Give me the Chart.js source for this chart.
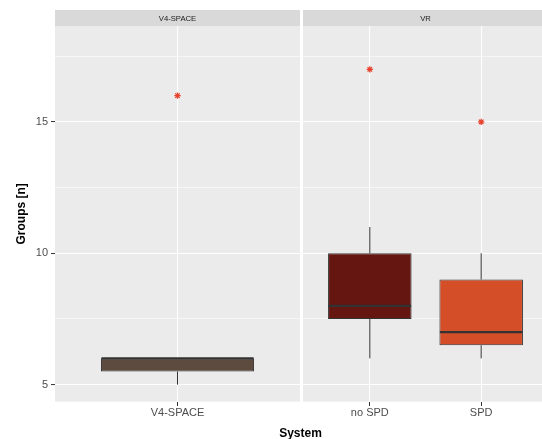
<!DOCTYPE html>
<html>
<head>
<meta charset="utf-8">
<script src="https://cdn.jsdelivr.net/npm/chart.js@4/dist/chart.umd.min.js"></script>
<style>
  html, body { margin: 0; padding: 0; background: #fff; }
  body { width: 542px; height: 439px; overflow: hidden; position: relative; font-family: "Liberation Sans", Arial, sans-serif; }
  canvas { position: absolute; top: 0; }
  #xTitle { position: absolute; left: 250px; width: 101px; top: 426px; text-align: center; font-weight: bold; font-size: 12px; line-height: 14px; color: #000; }
</style>
</head>
<body>
<canvas id="panelA" width="300" height="439" style="left:0px"></canvas>
<canvas id="panelB" width="248" height="439" style="left:300px"></canvas>
<div id="xTitle">System</div>
<script>
var facets = ['V4-SPACE', 'VR'];
var groups = ['V4-SPACE', 'no SPD', 'SPD'];
var groupFacet = ['V4-SPACE', 'VR', 'VR'];
var whiskerLow = [5, 6, 6];
var q1 = [5.5, 7.5, 6.5];
var median = [6, 8, 7];
var q3 = [6, 10, 9];
var whiskerHigh = [6, 11, 10];
var outliers = [[16], [17], [15]];
var yTicks = [5, 10, 15];

var boxColors = ['#5e4b3f', '#661610', '#d44e28'];
var lineColor = '#333333';
var yMin = 4.35, yMax = 18.65;   // ggplot expanded range
var boxWidth = 0.75;

// minor gridlines halfway between the labelled ones (ggplot style)
var step = yTicks[1] - yTicks[0];
var gridVals = [];
yTicks.forEach(function (v) { gridVals.push(v); gridVals.push(v + step / 2); });

var panelBg = {
    id: 'panelBg',
    beforeDraw: function (chart) {
        var a = chart.chartArea, ctx = chart.ctx;
        ctx.save();
        ctx.fillStyle = '#ebebeb';
        ctx.fillRect(a.left, a.top, a.right - a.left, a.bottom - a.top);
        ctx.fillStyle = '#d9d9d9';
        ctx.fillRect(a.left, 10, a.right - a.left, a.top - 10);
        ctx.fillStyle = '#1a1a1a';
        ctx.font = '7.7px "Liberation Sans", Arial, sans-serif';
        ctx.textAlign = 'center';
        ctx.textBaseline = 'middle';
        ctx.fillText(chart.options.plugins.panelBg.label, (a.left + a.right) / 2, (10 + a.top) / 2 + 0.5);
        ctx.restore();
    },
    afterDraw: function (chart) {
        // short tick marks under the panel, one per category
        var xs = chart.scales.x, ctx = chart.ctx;
        var b = Math.round(chart.chartArea.bottom);
        ctx.save();
        ctx.fillStyle = lineColor;
        xs.ticks.forEach(function (t) {
            var x = Math.floor(xs.getPixelForValue(t.value));
            ctx.fillRect(x, b, 1, 4);
        });
        ctx.restore();
    }
};

var whiskers = {
    id: 'whiskers',
    afterDatasetsDraw: function (chart) {
        var xs = chart.scales.x, ys = chart.scales.y, ctx = chart.ctx;
        var idx = chart.options.plugins.whiskers.idx;
        ctx.save();
        ctx.strokeStyle = lineColor;
        idx.forEach(function (g, k) {
            var pos = k + 1;
            var x = xs.getPixelForValue(pos);
            ctx.lineWidth = 1;
            ctx.beginPath();
            ctx.moveTo(x, ys.getPixelForValue(q3[g]));
            ctx.lineTo(x, ys.getPixelForValue(whiskerHigh[g]));
            ctx.moveTo(x, ys.getPixelForValue(q1[g]));
            ctx.lineTo(x, ys.getPixelForValue(whiskerLow[g]));
            ctx.stroke();
            ctx.lineWidth = 2.2;
            ctx.beginPath();
            var my = ys.getPixelForValue(median[g]);
            ctx.moveTo(xs.getPixelForValue(pos - boxWidth / 2) + 0.5, my);
            ctx.lineTo(xs.getPixelForValue(pos + boxWidth / 2) - 0.5, my);
            ctx.stroke();
        });
        ctx.restore();
    }
};

function makePanel(canvasId, facet, showY) {
    var idx = [];
    groups.forEach(function (g, i) { if (groupFacet[i] === facet) idx.push(i); });
    var n = idx.length;
    var xMin = 1 - 0.6, xMax = n + 0.6;

    var boxes = idx.map(function (g, k) { return { x: k + 1, y: [q1[g], q3[g]] }; });
    var outs = [];
    idx.forEach(function (g, k) {
        outliers[g].forEach(function (v) { outs.push({ x: k + 1, y: v }); });
    });

    // bar width = boxWidth units; chart.js sizes bars off the smallest spacing
    var spacing = n > 1 ? 1 : (xMax - xMin);
    var ctx = document.getElementById(canvasId).getContext('2d');

    return new Chart(ctx, {
        type: 'bar',
        data: {
            datasets: [
                {
                    type: 'bar',
                    data: boxes,
                    backgroundColor: idx.map(function (g) { return boxColors[g]; }),
                    borderColor: lineColor,
                    borderWidth: 1,
                    borderSkipped: false,
                    categoryPercentage: boxWidth / spacing,
                    barPercentage: 1
                },
                {
                    type: 'scatter',
                    data: outs,
                    pointStyle: 'star',
                    radius: 3.2,
                    borderColor: '#e8412f',
                    backgroundColor: '#e8412f',
                    borderWidth: 1.3
                }
            ]
        },
        options: {
            responsive: false,
            animation: false,
            devicePixelRatio: 1,
            layout: { autoPadding: false, padding: { top: 26, left: showY ? 0 : 3, right: 0, bottom: 0 } },
            plugins: {
                legend: { display: false },
                tooltip: { enabled: false },
                panelBg: { label: facet },
                whiskers: { idx: idx }
            },
            scales: {
                x: {
                    type: 'linear',
                    min: xMin,
                    max: xMax,
                    offset: false,
                    afterBuildTicks: function (s) {
                        s.ticks = idx.map(function (g, k) { return { value: k + 1 }; });
                    },
                    afterFit: function (s) {
                        s.height = 37.3;
                        s.paddingLeft = 0;
                        s.paddingRight = 0;
                    },
                    ticks: {
                        autoSkip: false,
                        maxRotation: 0,
                        padding: 1,
                        color: '#4d4d4d',
                        font: { family: '"Liberation Sans", Arial, sans-serif', size: 11 },
                        callback: function (v) { return groups[idx[Math.round(v) - 1]]; }
                    },
                    grid: {
                        offset: false,
                        color: '#ffffff',
                        lineWidth: 1.1,
                        drawTicks: true,
                        tickLength: 4,
                        tickColor: 'rgba(0,0,0,0)'
                    },
                    border: { display: false }
                },
                y: {
                    min: yMin,
                    max: yMax,
                    afterBuildTicks: function (s) {
                        s.ticks = gridVals.map(function (v) { return { value: v }; });
                    },
                    afterFit: function (s) {
                        s.width = showY ? 55 : 0;
                        s.paddingTop = 0;
                        s.paddingBottom = 0;
                    },
                    ticks: {
                        display: showY,
                        autoSkip: false,
                        padding: 3,
                        color: '#4d4d4d',
                        font: { family: '"Liberation Sans", Arial, sans-serif', size: 11 },
                        callback: function (v) { return yTicks.indexOf(v) >= 0 ? String(v) : ''; }
                    },
                    grid: {
                        color: '#ffffff',
                        lineWidth: function (c) { return yTicks.indexOf(c.tick.value) >= 0 ? 1.1 : 0.55; },
                        drawTicks: showY,
                        tickLength: 4,
                        tickColor: function (c) { return yTicks.indexOf(c.tick.value) >= 0 ? lineColor : 'rgba(0,0,0,0)'; },
                        tickWidth: 1
                    },
                    border: { display: false },
                    title: {
                        display: showY,
                        text: 'Groups [n]',
                        color: '#000000',
                        font: { family: '"Liberation Sans", Arial, sans-serif', size: 12, weight: 'bold' },
                        padding: { top: 14.5, bottom: 0 }
                    }
                }
            }
        },
        plugins: [panelBg, whiskers]
    });
}

makePanel('panelA', facets[0], true);
makePanel('panelB', facets[1], false);
</script>
</body>
</html>
